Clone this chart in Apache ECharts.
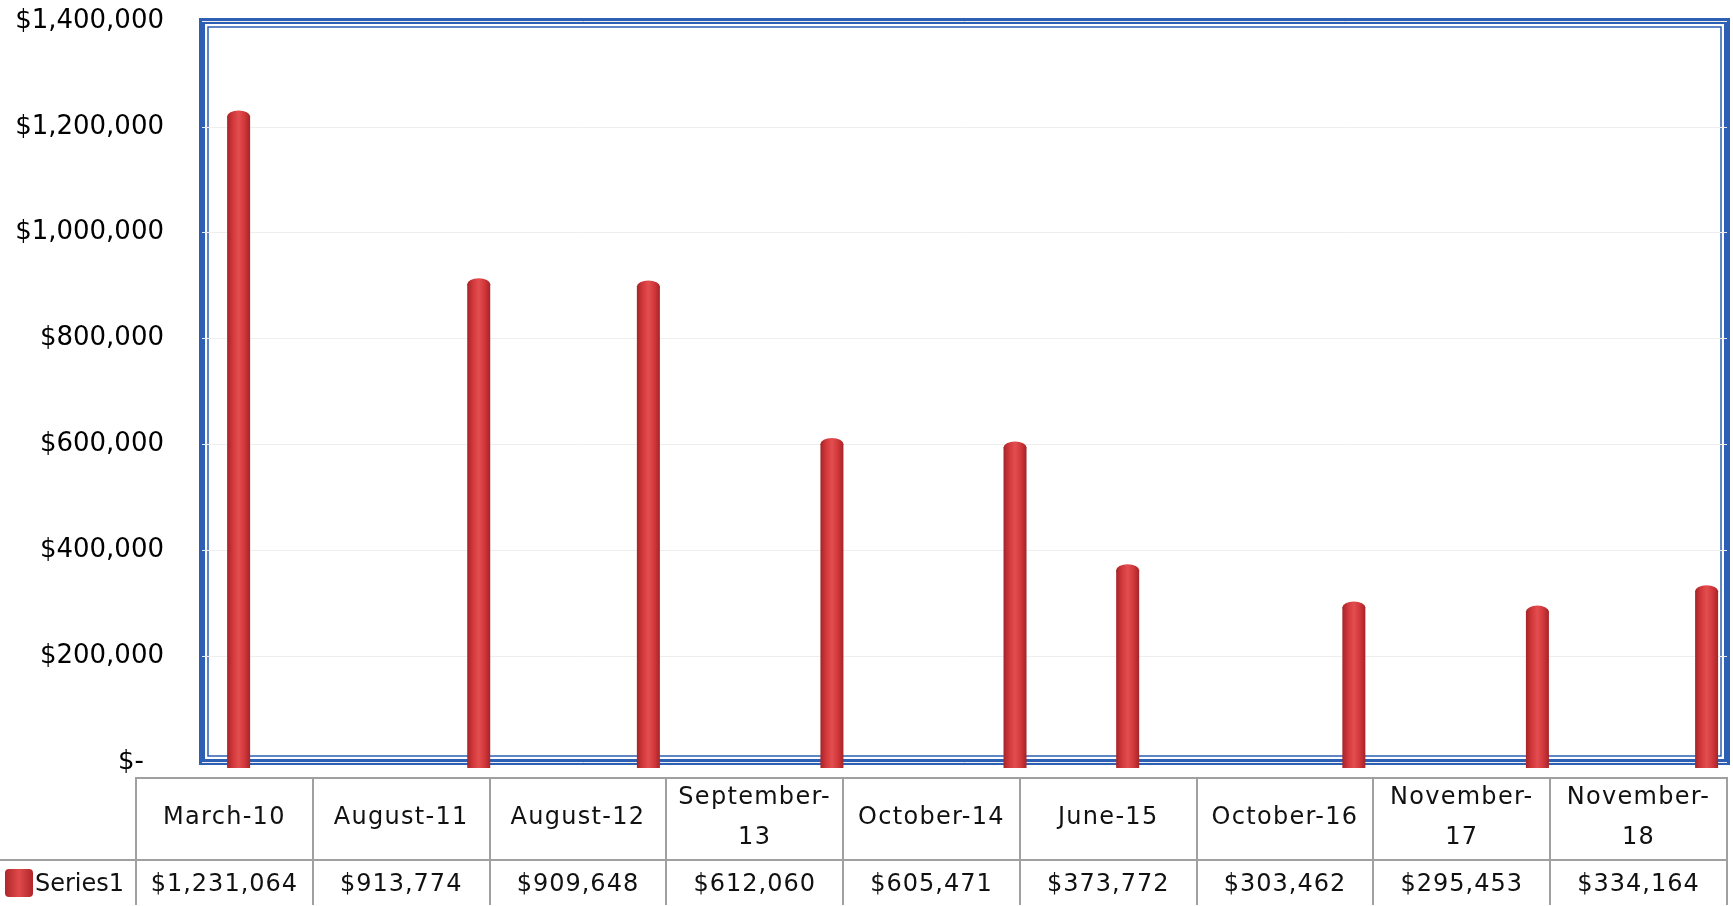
<!DOCTYPE html>
<html>
<head>
<meta charset="utf-8">
<script src="https://cdn.jsdelivr.net/npm/echarts@6/dist/echarts.min.js"></script>
<style>
  html, body { margin: 0; padding: 0; background: #fff; }
  #chart { position: absolute; left: 0; top: 0; width: 1733px; height: 906px; }
  #tbl {
    position: absolute; left: 0; top: 777px;
    border-collapse: collapse; table-layout: fixed;
    font-family: "DejaVu Sans", sans-serif; font-size: 24px; letter-spacing: 1.3px; color: #111;
  }
  #tbl td { border: 2px solid #a0a0a0; text-align: center; padding: 0; }
  #tbl tr.head td { height: 78px; line-height: 40px; }
  #tbl tr.head td span { position: relative; top: -3px; }
  #tbl tr.head td.blank { border-top: none; border-left: none; }
  #tbl tr.vals td { height: 44px; border-bottom: none; letter-spacing: 1px; }
  #tbl tr.vals td.key { border-left: none; text-align: left; letter-spacing: 0; }
  .sw {
    display: inline-block; width: 28px; height: 28px; margin: 0 2px 0 5px; vertical-align: -6px;
    border-radius: 4px; background: linear-gradient(90deg, #b0262a, #e04a4c 50%, #b0262a);
  }
</style>
</head>
<body>
<div id="chart"></div>
<table id="tbl"></table>
<script>
// dates of each bar (time axis) and data-table labels
const dates = ['2010-03-01', '2011-08-01', '2012-08-01', '2013-09-01', '2014-10-01',
               '2015-06-01', '2016-10-01', '2017-11-01', '2018-11-01'];
const labels = ['March-10', 'August-11', 'August-12', 'September-\n13', 'October-14',
                'June-15', 'October-16', 'November-\n17', 'November-\n18'];
const series1 = [1231064, 913774, 909648, 612060, 605471, 373772, 303462, 295453, 334164];
const seriesName = 'Series1';

function money(v) {
  return '$' + v.toLocaleString('en-US');
}

let myChart = echarts.init(document.getElementById('chart'));

let gridLeft = 202, gridTop = 21, gridRight = 6, gridBottom = 144;
let gw = 1733 - gridLeft - gridRight, gh = 906 - gridTop - gridBottom;

let barColor = new echarts.graphic.LinearGradient(0, 0, 1, 0, [
  { offset: 0, color: '#a42428' },
  { offset: 0.25, color: '#d3383b' },
  { offset: 0.5, color: '#e24e50' },
  { offset: 0.75, color: '#d3383b' },
  { offset: 1, color: '#a42428' }
]);
let barData = dates.map((d, i) => [d, series1[i]]);

let option = {
  animation: false,
  grid: {
    left: gridLeft, top: gridTop, right: gridRight, bottom: gridBottom,
    show: true, borderColor: '#2d5fb4', borderWidth: 6, backgroundColor: 'transparent'
  },
  xAxis: {
    type: 'time',
    min: +new Date('2009-12-12'),
    max: +new Date('2018-12-15'),
    axisLabel: { show: false },
    axisLine: { show: false },
    axisTick: { show: false },
    splitLine: { show: false }
  },
  yAxis: {
    type: 'value',
    min: 0, max: 1400000, interval: 200000,
    axisLine: { show: false },
    axisTick: { show: false },
    splitLine: { lineStyle: { color: '#eeeeee', width: 1 } },
    axisLabel: {
      margin: 38,
      fontFamily: 'DejaVu Sans', fontSize: 26, color: '#000',
      formatter: function (v) {
        return v === 0 ? '{z|$-}' : money(v);
      },
      rich: {
        z: { fontFamily: 'DejaVu Sans', fontSize: 26, color: '#000', padding: [0, 20, 0, 0] }
      }
    }
  },
  graphic: [{
    type: 'rect',
    z: 0,
    shape: { x: gridLeft + 6, y: gridTop + 6, width: gw - 12, height: gh - 12 },
    style: { fill: 'none', stroke: '#2d5fb4', lineWidth: 1.5 }
  }],
  series: [{
    // pictorialBar keeps the time axis free of bar-overflow padding
    type: 'pictorialBar',
    name: seriesName,
    symbol: 'rect',
    symbolSize: [23, '100%'],
    symbolOffset: [0, 6],
    z: 5,
    data: barData,
    itemStyle: { color: barColor }
  }, {
    // rounded cylinder top
    type: 'pictorialBar',
    name: seriesName,
    symbol: 'circle',
    symbolSize: [23, 12],
    symbolPosition: 'end',
    z: 6,
    data: barData,
    itemStyle: { color: barColor }
  }]
};
myChart.setOption(option);

// data table under the plot
let tbl = document.getElementById('tbl');
let colW = (1727 - 136) / labels.length;
let html = '<colgroup><col style="width:136px">';
labels.forEach(() => { html += '<col style="width:' + colW + 'px">'; });
html += '</colgroup><tr class="head"><td class="blank"></td>';
labels.forEach(l => { html += '<td><span>' + l.replace('\n', '<br>') + '</span></td>'; });
html += '</tr><tr class="vals"><td class="key"><span class="sw"></span>' + seriesName + '</td>';
series1.forEach(v => { html += '<td>' + money(v) + '</td>'; });
html += '</tr>';
tbl.innerHTML = html;
tbl.style.width = (136 + colW * labels.length) + 'px';
</script>
</body>
</html>
